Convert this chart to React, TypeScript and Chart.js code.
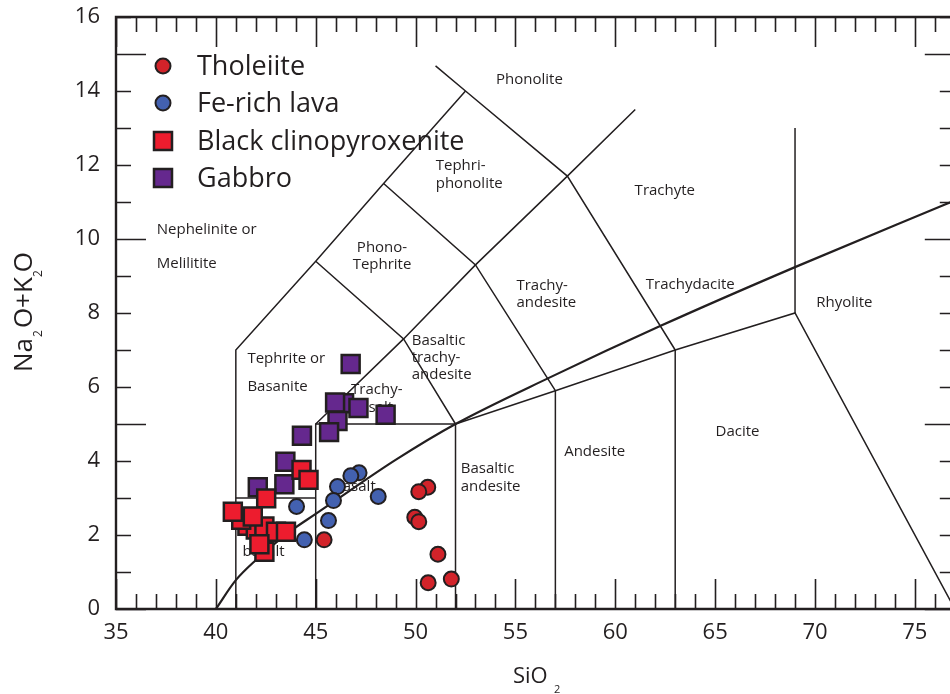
import { useEffect, useRef } from 'react';
import { Chart, registerables } from 'chart.js';

Chart.register(...registerables);

// ---------- data ----------
const tholeiiteSiO2 = [45.42, 50.61, 50.16, 49.96, 50.16, 51.12, 50.63, 51.79];
const tholeiiteAlk = [1.87, 3.29, 3.17, 2.48, 2.36, 1.48, 0.71, 0.81];

const feRichSiO2 = [47.17, 46.76, 46.09, 48.13, 45.89, 44.04, 45.64, 44.43];
const feRichAlk = [3.68, 3.6, 3.31, 3.04, 2.93, 2.77, 2.39, 1.87];

const clinoSiO2 = [44.29, 44.64, 42.52, 41.58, 42.0, 42.43, 41.27, 41.85, 40.85, 43.01, 43.51, 42.43, 42.18];
const clinoAlk = [3.76, 3.49, 2.99, 2.25, 2.15, 2.23, 2.41, 2.5, 2.63, 2.09, 2.09, 1.55, 1.75];

const gabbroSiO2 = [46.75, 46.42, 45.97, 47.14, 46.09, 48.5, 45.67, 44.31, 43.48, 43.43, 42.1];
const gabbroAlk = [6.62, 5.56, 5.58, 5.43, 5.08, 5.25, 4.78, 4.68, 3.98, 3.37, 3.29];

const seriesNames = ['Tholeiite', 'Fe-rich lava', 'Black clinopyroxenite', 'Gabbro'];

// TAS field boundaries (SiO2, Na2O+K2O)
const boundaryA = [[41, 0], [41, 7], [45, 9.4], [48.4, 11.5], [52.5, 14]];
const boundaryB = [[51, 14.68], [52.5, 14], [57.6, 11.7], [63, 7]];
const boundaryC = [[45, 5], [49.4, 7.3], [53, 9.3], [57.6, 11.7], [61, 13.5]];
const boundaryD = [[45, 9.4], [49.4, 7.3], [52, 5]];
const boundaryE = [[48.4, 11.5], [53, 9.3], [57, 5.9]];
const boundaryF = [[41, 3], [45, 3]];
const boundaryG = [[45, 0], [45, 5], [52, 5], [52, 0]];
const boundaryH = [[52, 5], [57, 5.9], [63, 7], [69, 8], [77, 0]];
const boundaryI = [[57, 5.9], [57, 0]];
const boundaryJ = [[63, 7], [63, 0]];
const boundaryK = [[69, 8], [69, 13]];
const boundaries = [boundaryA, boundaryB, boundaryC, boundaryD, boundaryE, boundaryF, boundaryG, boundaryH, boundaryI, boundaryJ, boundaryK];

// Alkaline / subalkaline dividing curve
const curveSiO2 = [40, 41, 42.02, 43.7, 45, 45.9, 49, 52, 56.65, 62.3, 69, 76.6, 77];
const curveAlk = [0, 0.78, 1.33, 2.09, 2.57, 2.9, 4.03, 5, 6.24, 7.66, 9.24, 10.95, 11.04];

// field names
const fieldText = ['Phonolite', 'Tephri-', 'phonolite', 'Trachyte', 'Nephelinite or', 'Melilitite', 'Phono-', 'Tephrite',
  'Trachy-', 'andesite', 'Trachydacite', 'Rhyolite', 'Dacite', 'Basaltic', 'trachy-', 'andesite', 'Andesite',
  'Basaltic', 'andesite', 'Tephrite or', 'Basanite', 'Trachy-', 'basalt', 'Basalt', 'basalt'];
const fieldX = [55.7, 51.01, 51.01, 62.48, 37.04, 37.04, 48.32, 48.32,
  55.05, 55.05, 61.53, 70.06, 65.02, 49.81, 49.81, 49.81, 57.44,
  52.26, 52.26, 41.58, 41.58, 46.77, 46.77, 45.87, 41.33];
const fieldY = [14.31, 11.98, 11.49, 11.3, 10.25, 9.33, 9.76, 9.3,
  8.73, 8.27, 8.76, 8.27, 4.79, 7.25, 6.79, 6.33, 4.25,
  3.79, 3.3, 6.76, 6.0, 5.92, 5.44, 3.3, 1.54];
const fieldAlign = ['center', 'left', 'left', 'center', 'left', 'left', 'center', 'center',
  'left', 'left', 'left', 'left', 'left', 'left', 'left', 'left', 'left',
  'left', 'left', 'left', 'left', 'left', 'left', 'left', 'left'];

const xTickLabels = [35, 40, 45, 50, 55, 60, 65, 70, 75];
const yTickLabels = [0, 2, 4, 6, 8, 10, 12, 14, 16];
const X_MIN = 35, X_MAX = 77, Y_MIN = 0, Y_MAX = 16;

const FONT = '"Open Sans", sans-serif';
const INK = '#231f20';
const colors = ['#d2232a', '#4361b0', '#ed1c2e', '#65288e'];
const markerStyle = ['circle', 'circle', 'rect', 'rect'];

const toPts = (xs: number[], ys: number[]) => xs.map((x, i) => ({ x, y: ys[i] }));

const tasPlugin = {
  id: 'tasDecor',
  beforeDatasetsDraw(chart: any) {
    const ctx = chart.ctx;
    const xs = chart.scales.x, ys = chart.scales.y;
    ctx.save();
    ctx.fillStyle = INK;
    ctx.font = `15px ${FONT}`;
    ctx.textBaseline = 'middle';
    fieldText.forEach((t, i) => {
      ctx.textAlign = fieldAlign[i];
      ctx.fillText(t, xs.getPixelForValue(fieldX[i]), ys.getPixelForValue(fieldY[i]));
    });
    ctx.restore();
  },
  afterDraw(chart: any) {
    const ctx = chart.ctx;
    const xs = chart.scales.x, ys = chart.scales.y;
    const { left, right, top, bottom } = chart.chartArea;
    ctx.save();
    ctx.strokeStyle = INK;
    ctx.fillStyle = INK;
    // ticks
    ctx.lineWidth = 1.6;
    ctx.beginPath();
    for (let v = X_MIN; v <= X_MAX; v++) {
      const px = Math.round(xs.getPixelForValue(v)) + 0.5;
      const len = v % 5 === 0 ? 30 : 15;
      ctx.moveTo(px, bottom); ctx.lineTo(px, bottom - len);
      ctx.moveTo(px, top); ctx.lineTo(px, top + len);
    }
    for (let v = Y_MIN; v <= Y_MAX; v++) {
      const py = Math.round(ys.getPixelForValue(v)) + 0.5;
      const len = v % 5 === 0 ? 30 : 15;
      ctx.moveTo(left, py); ctx.lineTo(left + len, py);
      ctx.moveTo(right, py); ctx.lineTo(right - len, py);
    }
    ctx.stroke();
    // frame
    ctx.lineWidth = 2.4;
    ctx.beginPath();
    ctx.moveTo(right, top); ctx.lineTo(left, top); ctx.lineTo(left, bottom); ctx.lineTo(right, bottom); ctx.lineTo(right, top);
    ctx.stroke();
    // tick labels
    ctx.font = `22px ${FONT}`;
    ctx.textAlign = 'center';
    ctx.textBaseline = 'middle';
    xTickLabels.forEach((v) => ctx.fillText(String(v), xs.getPixelForValue(v), bottom + 24));
    ctx.textAlign = 'right';
    yTickLabels.forEach((v) => ctx.fillText(String(v), left - 16, ys.getPixelForValue(v)));
    // x title
    ctx.textAlign = 'left';
    ctx.textBaseline = 'alphabetic';
    ctx.font = `22px ${FONT}`;
    ctx.fillText('SiO', 513, 683);
    ctx.font = `11px ${FONT}`;
    ctx.fillText('2', 554, 693);
    // y title
    ctx.save();
    ctx.translate(32, 372);
    ctx.rotate(-Math.PI / 2);
    let cur = 0;
    const piece = (t: string, size: number, dy: number, gap: number) => {
      ctx.font = `${size}px ${FONT}`;
      ctx.fillText(t, cur, dy);
      cur += ctx.measureText(t).width + gap;
    };
    piece('Na', 26, 0, 1);
    piece('2', 12, 10, 2);
    piece('O+K', 26, 0, 0);
    piece('2', 12, 10, -2);
    piece('O', 26, 0, 0);
    ctx.restore();
    // legend
    const rows = [75, 112, 150, 187];
    ctx.font = `27px ${FONT}`;
    ctx.textAlign = 'left';
    ctx.textBaseline = 'alphabetic';
    seriesNames.forEach((name, i) => {
      const cy = rows[i] - 9;
      ctx.fillStyle = colors[i];
      ctx.strokeStyle = INK;
      ctx.beginPath();
      if (markerStyle[i] === 'circle') {
        ctx.lineWidth = 2;
        ctx.arc(163, cy, 7.5, 0, Math.PI * 2);
      } else {
        ctx.lineWidth = 2.5;
        ctx.rect(163 - 9, cy - 9, 18, 18);
      }
      ctx.fill();
      ctx.stroke();
      ctx.fillStyle = INK;
      ctx.fillText(name, 197, rows[i]);
    });
    ctx.restore();
  },
};

export default function App() {
  const ref = useRef<HTMLCanvasElement | null>(null);
  useEffect(() => {
    if (!ref.current) return;
    const lineSets: any[] = boundaries.map((b) => ({
      data: b.map(([x, y]) => ({ x, y })),
      showLine: true,
      borderColor: INK,
      borderWidth: 1.5,
      pointRadius: 0,
      tension: 0,
      order: 20,
    }));
    lineSets.push({
      data: toPts(curveSiO2, curveAlk),
      showLine: true,
      borderColor: INK,
      borderWidth: 2.2,
      pointRadius: 0,
      cubicInterpolationMode: 'monotone',
      order: 19,
    });
    const seriesX = [tholeiiteSiO2, feRichSiO2, clinoSiO2, gabbroSiO2];
    const seriesY = [tholeiiteAlk, feRichAlk, clinoAlk, gabbroAlk];
    const pointSets = seriesNames.map((name, i) => ({
      label: name,
      data: toPts(seriesX[i], seriesY[i]),
      pointStyle: markerStyle[i],
      pointRadius: markerStyle[i] === 'circle' ? 7.5 : 12.7,
      pointHoverRadius: markerStyle[i] === 'circle' ? 7.5 : 12.7,
      backgroundColor: colors[i],
      borderColor: INK,
      pointBorderWidth: markerStyle[i] === 'circle' ? 2 : 2.5,
      borderWidth: markerStyle[i] === 'circle' ? 2 : 2.5,
      showLine: false,
      order: [4, 3, 1, 2][i],
    }));
    const chart = new Chart(ref.current, {
      type: 'scatter',
      data: { datasets: [...lineSets, ...pointSets] },
      options: {
        animation: false,
        responsive: false,
        events: [],
        layout: { padding: { left: 116, top: 17, right: 970 - (116 + 42 * 20.05), bottom: 85 } },
        scales: {
          x: { type: 'linear', min: X_MIN, max: X_MAX, display: false },
          y: { type: 'linear', min: Y_MIN, max: Y_MAX, display: false },
        },
        plugins: { legend: { display: false }, tooltip: { enabled: false } },
      } as any,
      plugins: [tasPlugin],
    });
    return () => chart.destroy();
  }, []);
  return (
    <div style={{ position: 'fixed', left: 0, top: 0, width: 950, height: 694, overflow: 'hidden', background: '#fff' }}>
      <canvas ref={ref} width={970} height={694} style={{ display: 'block', width: 970, height: 694 }} />
    </div>
  );
}
